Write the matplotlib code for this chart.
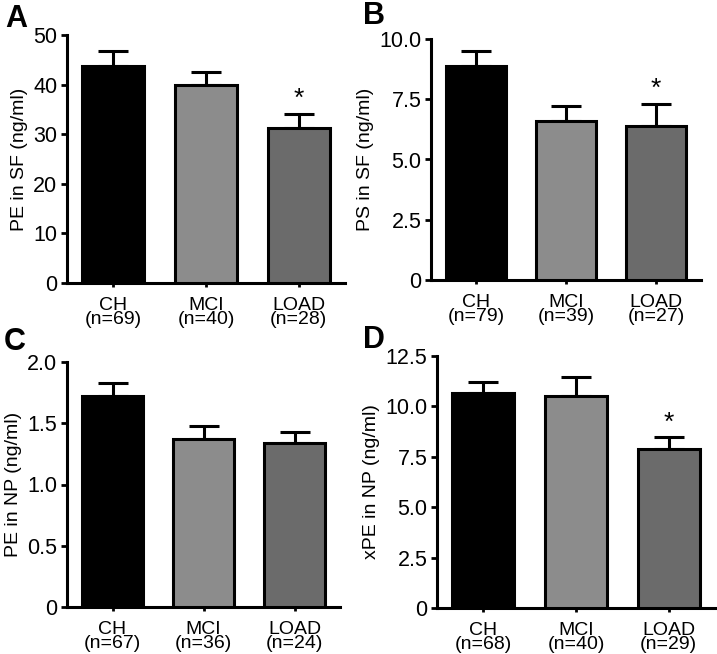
import matplotlib.pyplot as plt

plt.rcParams['font.family'] = ['Liberation Sans', 'DejaVu Sans']

# data
groups = ['CH', 'MCI', 'LOAD']
n_a = [69, 40, 28]
n_b = [79, 39, 27]
n_c = [67, 36, 24]
n_d = [68, 40, 29]

pe_sf = [43.8, 39.9, 31.2]
pe_sf_err = [3.0, 2.7, 2.9]
ps_sf = [8.88, 6.58, 6.37]
ps_sf_err = [0.64, 0.62, 0.94]
pe_np = [1.72, 1.375, 1.335]
pe_np_err = [0.11, 0.105, 0.09]
xpe_np = [10.65, 10.52, 7.91]
xpe_np_err = [0.58, 0.95, 0.55]

colors = ['#000000', '#8c8c8c', '#6b6b6b']

W, H = 717, 654
fig = plt.figure(figsize=(W / 100, H / 100), dpi=100)


def px_axes(left, top, right, bottom):
    return fig.add_axes([left / W, 1 - bottom / H, (right - left) / W, (bottom - top) / H])


def draw_panel(ax, vals, errs, ns, ymax, yticks, yticklabels, ylabel, stars):
    x = range(len(groups))
    ax.bar(x, vals, width=0.67, color=colors, edgecolor='black', linewidth=2.2, zorder=3)
    ax.errorbar(x, vals, yerr=[[0] * len(vals), errs], fmt='none', ecolor='black',
                elinewidth=2.2, capsize=11, capthick=2.2, zorder=2)
    for i in stars:
        ax.text(i, vals[i] + errs[i] + ymax * 0.012, '*', ha='center', va='bottom', fontsize=19)
    ax.set_xlim(-0.5, 2.5)
    ax.set_ylim(0, ymax)
    ax.set_yticks(yticks)
    ax.set_yticklabels(yticklabels, fontsize=15.5)
    ax.set_xticks(list(x))
    ax.set_xticklabels([f'{g}\n(n={n})' for g, n in zip(groups, ns)], fontsize=14, linespacing=0.8)
    ax.set_ylabel(ylabel, fontsize=14, labelpad=4)
    ax.spines['top'].set_visible(False)
    ax.spines['right'].set_visible(False)
    ax.spines['left'].set_linewidth(2.2)
    ax.spines['bottom'].set_linewidth(2.2)
    ax.tick_params(axis='y', width=2.0, length=4, pad=3)
    ax.tick_params(axis='x', width=2.0, length=3, pad=7)
    ax.spines['left'].set_bounds(0, ymax)


ax_a = px_axes(67, 35, 345, 283)
draw_panel(ax_a, pe_sf, pe_sf_err, n_a, 50, [0, 10, 20, 30, 40, 50],
           ['0', '10', '20', '30', '40', '50'], 'PE in SF (ng/ml)', [2])

ax_b = px_axes(431, 39, 701, 280)
draw_panel(ax_b, ps_sf, ps_sf_err, n_b, 10, [0, 2.5, 5, 7.5, 10],
           ['0', '2.5', '5.0', '7.5', '10.0'], 'PS in SF (ng/ml)', [2])

ax_c = px_axes(67, 362, 340, 607)
draw_panel(ax_c, pe_np, pe_np_err, n_c, 2.0, [0, 0.5, 1.0, 1.5, 2.0],
           ['0', '0.5', '1.0', '1.5', '2.0'], 'PE in NP (ng/ml)', [])

ax_d = px_axes(437, 356, 715, 608)
draw_panel(ax_d, xpe_np, xpe_np_err, n_d, 12.5, [0, 2.5, 5, 7.5, 10, 12.5],
           ['0', '2.5', '5.0', '7.5', '10.0', '12.5'], 'xPE in NP (ng/ml)', [2])

# panel letters
for lbl, (px, py) in zip('ABCD', [(16, 19), (374, 16), (15, 342), (374, 340)]):
    fig.text(px / W, 1 - py / H, lbl, fontsize=22, fontweight='bold', ha='center', va='center')

fig.savefig('out.png', dpi=100)
